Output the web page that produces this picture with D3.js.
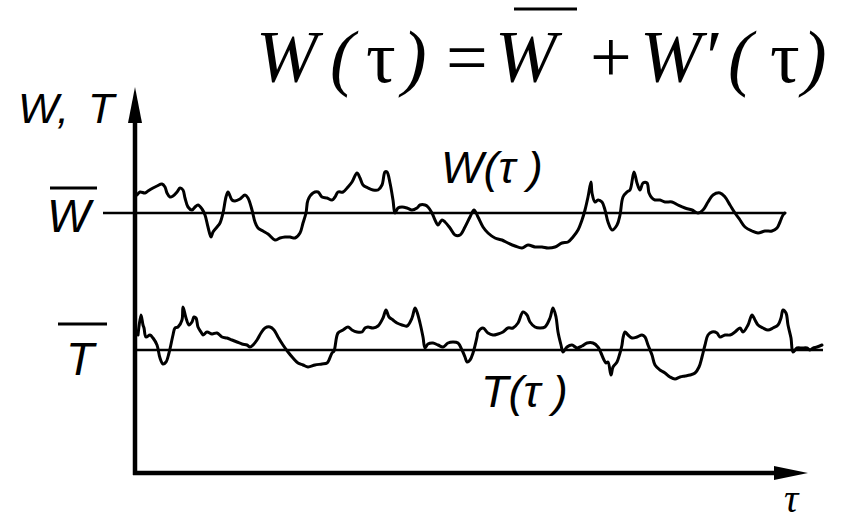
<!DOCTYPE html>
<html>
<head>
<meta charset="utf-8">
<script src="https://cdn.jsdelivr.net/npm/d3@7"></script>
<style>
  html, body { margin: 0; padding: 0; background: #fff; }
  svg { display: block; }
</style>
</head>
<body>
<svg id="chart" width="846" height="524"></svg>
<script>
// ---- data (τ in chart units along the time axis, values in chart units above the τ axis) ----
const tauW = [2,5,10,13,18,22,27,30,32,35,38,42,45,48,50,53,57,60,63,67,70,73,76,78,82,85,88,91,93,97,100,105,110,113,117,120,123,128,133,140,145,150,155,160,165,168,171,173,178,183,187,192,197,200,203,208,213,217,222,225,228,233,238,243,247,250,252,255,258,260,263,267,272,277,282,285,290,293,297,300,303,307,310,315,320,325,330,335,339,343,348,353,360,367,373,380,387,393,400,407,413,420,427,433,438,443,447,450,453,456,457,460,463,467,470,473,477,482,485,488,492,495,499,502,505,508,512,514,517,520,525,530,537,543,550,557,563,568,573,578,585,590,595,600,605,610,617,623,630,637,642,645,648,650];
const valW = [278,281,280,282,285,287,289,286,280,276,277,281,285,283,275,266,263,266,268,264,258,246,236,241,246,250,260,276,281,273,272,274,278,275,263,251,245,242,239,233,235,236,236,235,240,250,260,273,280,281,276,275,273,276,281,281,286,291,300,295,288,285,283,283,288,301,301,290,273,260,265,266,265,263,265,268,268,266,260,253,248,253,251,245,238,238,246,256,263,256,246,240,235,233,230,227,225,228,226,226,225,226,230,231,236,243,253,263,276,291,280,271,273,271,263,251,243,248,258,276,281,283,301,290,283,290,290,280,275,273,273,271,271,268,265,263,260,263,271,278,280,276,268,260,253,246,242,240,242,242,245,251,258,260];
const tauT = [3,6,8,9,11,15,18,22,25,28,31,34,38,40,43,47,48,51,54,57,59,61,63,66,68,72,77,82,87,92,97,102,107,112,115,118,122,126,130,135,139,143,148,153,158,163,168,173,180,187,192,194,197,199,203,208,213,217,222,227,230,233,238,243,248,251,254,258,262,267,272,277,280,282,285,288,290,293,298,303,308,313,318,323,327,330,332,335,338,342,343,348,353,358,363,368,373,378,383,388,392,395,400,405,410,415,418,421,423,426,428,432,437,442,447,452,458,463,466,469,471,473,476,478,482,485,487,488,490,493,497,502,507,510,513,517,520,525,530,535,540,545,550,555,560,564,567,570,573,577,582,585,590,595,600,605,608,613,617,620,623,628,633,638,643,646,648,651,653,656,658,662,667,672,675,678,682,687];
const valT = [138,158,148,145,136,138,135,128,115,109,111,120,138,145,146,153,166,155,148,151,156,155,146,141,138,141,139,140,136,135,133,131,129,128,126,128,133,140,145,146,143,136,128,121,115,110,108,106,108,109,110,113,120,122,140,143,146,143,141,141,145,146,145,147,155,163,156,153,150,148,147,155,165,161,150,136,125,129,130,128,126,130,131,130,123,116,111,113,120,136,141,145,140,138,139,141,145,145,150,161,158,151,146,145,146,155,165,156,141,128,121,126,128,125,127,130,130,126,120,113,110,111,98,106,111,120,128,135,141,138,135,136,138,136,128,118,108,103,100,96,94,96,97,98,100,106,116,128,138,141,140,136,138,138,141,145,141,148,158,153,148,145,143,145,148,155,163,160,148,135,121,125,125,125,123,125,126,128];
const meanW = 260;          // W̄
const meanT = 123;          // T̄
const meanWSpan = [-32, 650];
const meanTSpan = [0, 688];
const tauMax = 673;
const valMax = 386;

// ---- layout ----
const svg = d3.select("#chart");
const x = d3.scaleLinear().domain([0, tauMax]).range([135, 808]);
const y = d3.scaleLinear().domain([0, valMax]).range([473, 87]);
const ink = "#000";

// axes (domain lines only) via d3.axis
const gx = svg.append("g").attr("transform", `translate(0,${y(0)})`)
  .call(d3.axisBottom(x).tickValues([]).tickSizeOuter(0));
gx.select(".domain").attr("stroke", ink).attr("stroke-width", 4.5)
  .attr("d", `M${x(0) - 2},0H${x(tauMax) - 20}`);
const gy = svg.append("g").attr("transform", `translate(${x(0)},0)`)
  .call(d3.axisLeft(y).tickValues([]).tickSizeOuter(0));
gy.select(".domain").attr("stroke", ink).attr("stroke-width", 4.5)
  .attr("d", `M0,${y(0) + 2}V${y(valMax) + 25}`);

// arrowheads
svg.append("path")
  .attr("d", `M${x(tauMax)},${y(0)} L${x(tauMax) - 34},${y(0) - 7} L${x(tauMax) - 34},${y(0) + 7} Z`)
  .attr("fill", ink);
svg.append("path")
  .attr("d", `M${x(0)},${y(valMax)} L${x(0) - 7},${y(valMax) + 36} L${x(0) + 7},${y(valMax) + 36} Z`)
  .attr("fill", ink);

// mean lines
svg.append("line")
  .attr("x1", x(meanWSpan[0])).attr("x2", x(meanWSpan[1]))
  .attr("y1", y(meanW)).attr("y2", y(meanW))
  .attr("stroke", ink).attr("stroke-width", 2.4);
svg.append("line")
  .attr("x1", x(meanTSpan[0])).attr("x2", x(meanTSpan[1]))
  .attr("y1", y(meanT)).attr("y2", y(meanT))
  .attr("stroke", ink).attr("stroke-width", 2.4);

// fluctuating curves
const line = d3.line().x(d => x(d[0])).y(d => y(d[1])).curve(d3.curveCatmullRom.alpha(0.5));
svg.append("path").datum(d3.zip(tauW, valW)).attr("d", line)
  .attr("fill", "none").attr("stroke", ink).attr("stroke-width", 3)
  .attr("stroke-linejoin", "round").attr("stroke-linecap", "round");
svg.append("path").datum(d3.zip(tauT, valT)).attr("d", line)
  .attr("fill", "none").attr("stroke", ink).attr("stroke-width", 3)
  .attr("stroke-linejoin", "round").attr("stroke-linecap", "round");

// ---- labels ----
const sans = "'Liberation Sans', Arial, sans-serif";
const serif = "'Liberation Serif', 'Times New Roman', serif";
function lbl(t, px, py, size, fam, style) {
  return svg.append("text").attr("x", px).attr("y", py)
    .attr("font-family", fam).attr("font-size", size)
    .attr("font-style", style || "italic").attr("fill", ink).text(t);
}
lbl("W,", 18, 123, 43, sans);
lbl("T", 88, 123, 43, sans);
lbl("W", 47, 232, 46, sans);
svg.append("line").attr("x1", 50).attr("x2", 97).attr("y1", 188).attr("y2", 188)
  .attr("stroke", ink).attr("stroke-width", 3);
lbl("T", 66, 375, 46, sans);
svg.append("line").attr("x1", 58).attr("x2", 107).attr("y1", 324).attr("y2", 324)
  .attr("stroke", ink).attr("stroke-width", 3);
lbl("W(τ )", 441, 183, 45, sans);
lbl("T(τ )", 481, 407, 45, sans);
lbl("τ", 784, 512, 40, serif);

// title formula
const tSize = 74, tBase = 82;
lbl("W", 256, tBase, tSize, serif);
lbl("(", 330, tBase, tSize, serif);
lbl("τ", 366, tBase, tSize, serif, "normal");
lbl(")", 402, tBase, tSize, serif);
lbl("=", 446, tBase, tSize, serif, "normal");
lbl("W", 495, tBase, tSize, serif);
svg.append("line").attr("x1", 514).attr("x2", 577).attr("y1", 9).attr("y2", 9)
  .attr("stroke", ink).attr("stroke-width", 3);
lbl("+", 590, tBase, tSize, serif, "normal");
lbl("W′", 640, tBase, tSize, serif);
lbl("(", 728, tBase, tSize, serif);
lbl("τ", 770, tBase, tSize, serif, "normal");
lbl(")", 802, tBase, tSize, serif);
</script>
</body>
</html>
